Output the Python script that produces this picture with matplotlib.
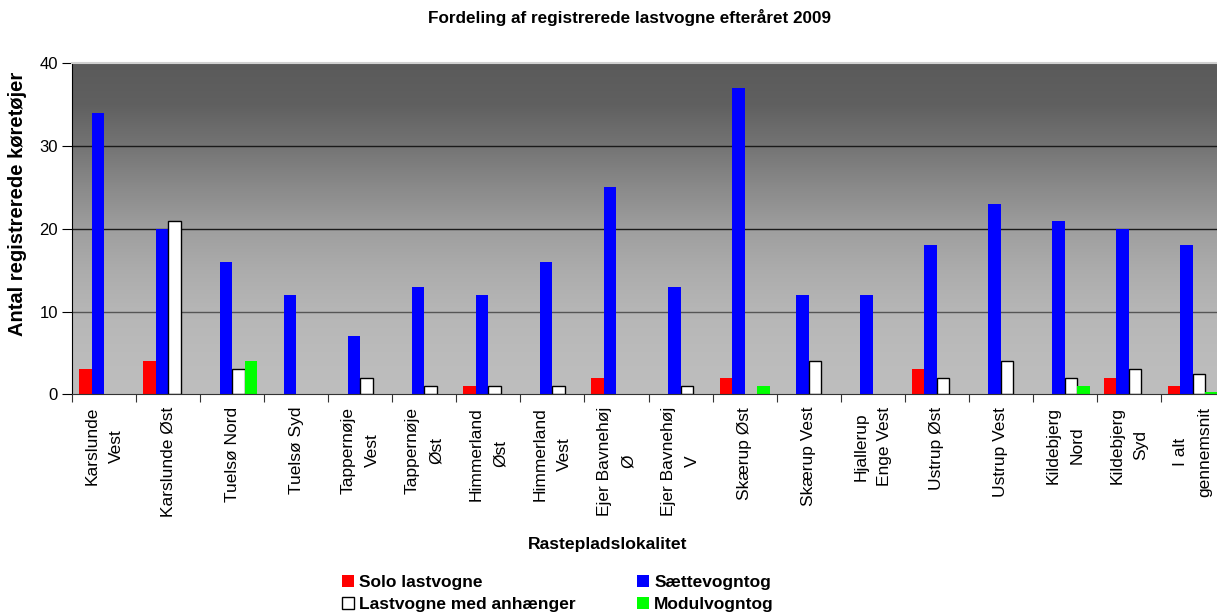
import numpy as np
import matplotlib
matplotlib.use("Agg")
import matplotlib.pyplot as plt
from matplotlib.patches import Patch

plt.rcParams['font.family'] = ['Liberation Sans', 'DejaVu Sans']

categories = ["Karslunde\nVest", "Karslunde Øst", "Tuelsø Nord", "Tuelsø Syd",
              "Tappernøje\nVest", "Tappernøje\nØst", "Himmerland\nØst", "Himmerland\nVest",
              "Ejer Bavnehøj\nØ", "Ejer Bavnehøj\nV", "Skærup Øst", "Skærup Vest",
              "Hjallerup\nEnge Vest", "Ustrup Øst", "Ustrup Vest", "Kildebjerg\nNord",
              "Kildebjerg\nSyd", "I alt\ngennemsnit"]
solo = [3, 4, 0, 0, 0, 0, 1, 0, 2, 0, 2, 0, 0, 3, 0, 0, 2, 1.0]
saette = [34, 20, 16, 12, 7, 13, 12, 16, 25, 13, 37, 12, 12, 18, 23, 21, 20, 18.1]
anhaenger = [0, 21, 3, 0, 2, 1, 1, 1, 0, 1, 0, 4, 0, 2, 4, 2, 3, 2.5]
modul = [0, 0, 4, 0, 0, 0, 0, 0, 0, 0, 1, 0, 0, 0, 0, 1, 0, 0.25]
series_names = ["Solo lastvogne", "Sættevogntog", "Lastvogne med anhænger", "Modulvogntog"]
y_ticks = [0, 10, 20, 30, 40]

W, H = 1217, 616
fig = plt.figure(figsize=(W / 100, H / 100), dpi=100)
left_px, right_px, top_px, bot_px = 72, 1225, 63.3, 394.3
ax = fig.add_axes([left_px / W, 1 - bot_px / H, (right_px - left_px) / W, (bot_px - top_px) / H])

n = len(categories)
ax.set_xlim(0, n)
ax.set_ylim(0, 40)

# gradient background
gy = [0, 5, 10, 15, 20, 25, 30, 35, 40]
gv = [190, 187, 182, 172, 158, 138, 116, 96, 90]
yy = np.linspace(0, 40, 400)
vals = np.interp(yy, gy, gv) / 255.0
img = np.repeat(vals[:, None], 2, axis=1)
rgb = np.dstack([img, img, img])
ax.imshow(rgb, extent=[0, n, 0, 40], origin='lower', aspect='auto', zorder=0, interpolation='bilinear')

for yv in [10, 20, 30]:
    ax.axhline(yv, color='#1a1a1a' if yv != 10 else '#555555', lw=1.0, zorder=1)

x = np.arange(n)
bw = 0.195
start = (1 - 4 * bw) / 2


def draw(vals, k, **kw):
    v = np.asarray(vals, dtype=float)
    m = v > 0
    ax.bar(x[m] + start + (k + 0.5) * bw, v[m], bw, zorder=2, **kw)


draw(solo, 0, color='#ff0000')
draw(saette, 1, color='#0000ff')
draw(anhaenger, 2, color='white', edgecolor='black', lw=1.0)
draw(modul, 3, color='#00ff00')

ax.set_yticks(y_ticks)
ax.set_yticklabels([str(t) for t in y_ticks], fontsize=12)
ax.set_xticks(np.arange(n + 1))
ax.set_xticklabels([])
ax.set_xticks(x + 0.5, minor=True)
ax.set_xticklabels(categories, minor=True, rotation=90, fontsize=12.5, va='top', ha='center',
                   multialignment='center', linespacing=1.75)
ax.tick_params(axis='x', which='minor', length=0, pad=9)
ax.tick_params(axis='x', which='major', length=6, direction='out', color='#333333')
ax.tick_params(axis='y', length=7, direction='out', pad=3)

for s in ['top', 'right']:
    ax.spines[s].set_visible(False)
ax.spines['left'].set_color('black')
ax.spines['bottom'].set_color('#333333')
ax.plot([0, n], [40, 40], color='#d0d0d0', lw=1.5, zorder=3, clip_on=False)

fig.text(630 / W, 1 - 18 / H, "Fordeling af registrerede lastvogne efteråret 2009",
         ha='center', va='center', fontsize=12.3, fontweight='bold')
fig.text(18 / W, 1 - 204 / H, "Antal registrerede køretøjer", rotation=90,
         ha='center', va='center', fontsize=14.5, fontweight='bold')
fig.text(608 / W, 1 - 545 / H, "Rastepladslokalitet", ha='center', va='center',
         fontsize=12.6, fontweight='bold')

handles = [Patch(facecolor='#ff0000'), Patch(facecolor='white', edgecolor='black'),
           Patch(facecolor='#0000ff'), Patch(facecolor='#00ff00')]
labels = [series_names[0], series_names[2], series_names[1], series_names[3]]
fig.legend(handles, labels, ncol=2, loc='center left', bbox_to_anchor=(342 / W, 1 - 593.5 / H),
           frameon=False, prop={'weight': 'bold', 'size': 12.5}, handlelength=0.7,
           handleheight=0.7, handletextpad=0.3, columnspacing=3.5, labelspacing=0.4,
           borderpad=0, borderaxespad=0)

fig.savefig("out.png", dpi=100)
